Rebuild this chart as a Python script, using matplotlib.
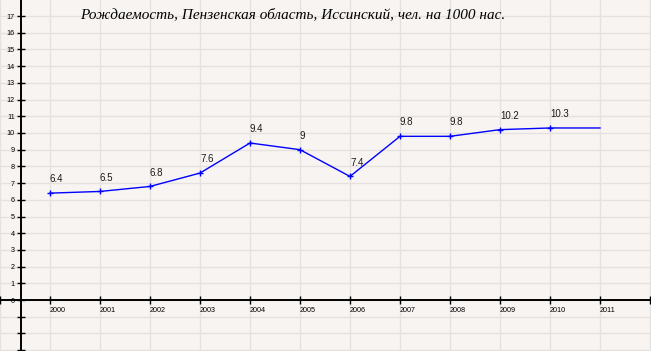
import matplotlib
matplotlib.use("Agg")
import matplotlib.pyplot as plt

years = [2000, 2001, 2002, 2003, 2004, 2005, 2006, 2007, 2008, 2009, 2010, 2011]
values = [6.4, 6.5, 6.8, 7.6, 9.4, 9.0, 7.4, 9.8, 9.8, 10.2, 10.3, 10.3]
point_labels = ["6.4", "6.5", "6.8", "7.6", "9.4", "9", "7.4", "9.8", "9.8", "10.2", "10.3", ""]
title = "Рождаемость, Пензенская область, Иссинский, чел. на 1000 нас."

bg = "#f7f4f2"
grid_col = "#e4e1df"

fig = plt.figure(figsize=(6.51, 3.51), dpi=100, facecolor=bg)
ax = fig.add_axes([0, 0, 1, 1], facecolor=bg)

xmin, xmax = 1999.41, 2012.02
ymin, ymax = -3.05, 17.96
ax.set_xlim(xmin, xmax)
ax.set_ylim(ymin, ymax)

# grid
xt = list(range(1999, 2013))
yt = list(range(-3, 18))
for x in xt:
    ax.axvline(x, color=grid_col, lw=1, zorder=0)
for y in yt:
    ax.axhline(y, color=grid_col, lw=1, zorder=0)

# axes lines
for s in ["top", "right"]:
    ax.spines[s].set_visible(False)
ax.spines["left"].set_position(("data", xmin))
ax.spines["bottom"].set_position(("data", 0))
ax.spines["left"].set_linewidth(1.4)
ax.spines["bottom"].set_linewidth(1.4)

ax.set_xticks(xt)
ax.set_xticklabels([str(x) if 2000 <= x <= 2011 else "" for x in xt],
                   fontsize=5.2, family="Liberation Sans", ha="left")
ax.set_yticks(yt)
ax.set_yticklabels([str(y) if y >= 0 else "" for y in yt],
                   fontsize=5.2, family="Liberation Sans")
ax.tick_params(axis="both", direction="inout", length=6, width=1, colors="black", pad=1)
ax.tick_params(axis="x", pad=2)

# line
ax.plot(years, values, color="#0000ff", lw=1, marker="+", markersize=4.5,
        markeredgewidth=1, markevery=list(range(len(years) - 1)), zorder=3)
for x, v, t in zip(years, values, point_labels):
    if t:
        ax.annotate(t, (x, v), xytext=(0, 10), textcoords="offset points",
                    ha="left", va="center", fontsize=7, family="Liberation Sans",
                    color="#1a1a1a")

fig.text(0.45, 0.957, title, ha="center", va="center", fontsize=11,
         family="Liberation Serif", style="italic", color="black")

fig.savefig("out.png", dpi=100, facecolor=bg)
